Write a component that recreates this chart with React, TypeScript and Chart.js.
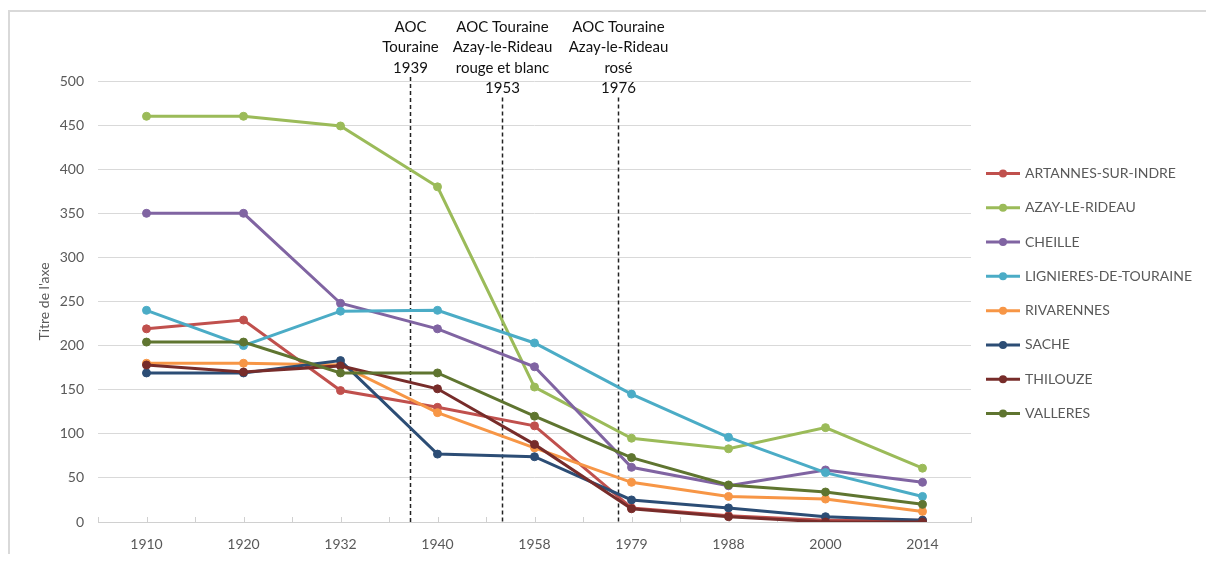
import React, { useEffect, useRef } from 'react';
import { Chart, registerables } from 'chart.js';

Chart.register(...registerables);

const years = ['1910', '1920', '1932', '1940', '1958', '1979', '1988', '2000', '2014'];

const artannes = [219, 229, 149, 130, 109, 16, 7, 2, 2];
const azay = [460, 460, 449, 380, 153, 95, 83, 107, 61];
const cheille = [350, 350, 248, 219, 176, 62, 41, 59, 45];
const lignieres = [240, 200, 239, 240, 203, 145, 96, 56, 29];
const rivarennes = [180, 180, 178, 124, 84, 45, 29, 26, 12];
const sache = [169, 169, 183, 77, 74, 25, 16, 6, 2];
const thilouze = [178, 170, 177, 151, 88, 15, 6, 0, 0];
const valleres = [204, 204, 169, 169, 120, 73, 42, 34, 20];

const seriesNames = [
  'ARTANNES-SUR-INDRE',
  'AZAY-LE-RIDEAU',
  'CHEILLE',
  'LIGNIERES-DE-TOURAINE',
  'RIVARENNES',
  'SACHE',
  'THILOUZE',
  'VALLERES',
];
const seriesValues = [artannes, azay, cheille, lignieres, rivarennes, sache, thilouze, valleres];
const seriesColors = ['#C0504D', '#9BBB59', '#8064A2', '#4BACC6', '#F79646', '#2C4D75', '#772C2A', '#5F7530'];

// fractional category index where each AOC marker sits
const annotationPositions = [2.715, 3.665, 4.862];
const annotationTexts = [
  ['AOC', 'Touraine', '1939'],
  ['AOC Touraine', 'Azay-le-Rideau', 'rouge et blanc', '1953'],
  ['AOC Touraine', 'Azay-le-Rideau', 'rosé', '1976'],
];

const yMin = 0;
const yMax = 500;
const yStep = 50;
const yTitle = "Titre de l'axe";

const FONT = 'Lato, "Open Sans", sans-serif';
const GREY = '#595959';

const borderPlugin = {
  id: 'frameBorder',
  beforeDraw(chart: any) {
    const { ctx, width, height } = chart;
    ctx.save();
    ctx.strokeStyle = '#D9D9D9';
    ctx.lineWidth = 2;
    ctx.beginPath();
    ctx.moveTo(0, 3);
    ctx.lineTo(width, 3);
    ctx.moveTo(1, 2);
    ctx.lineTo(1, height);
    ctx.stroke();
    ctx.restore();
  },
};

const xTickPlugin = {
  id: 'xHalfTicks',
  beforeDatasetsDraw(chart: any) {
    const { ctx, chartArea } = chart;
    const n = years.length * 2;
    ctx.save();
    ctx.strokeStyle = '#D0D0D0';
    ctx.lineWidth = 1;
    ctx.beginPath();
    for (let i = 0; i <= n; i++) {
      const x = Math.round(chartArea.left + (i * (chartArea.right - chartArea.left)) / n) + 0.5;
      ctx.moveTo(x, chartArea.bottom);
      ctx.lineTo(x, chartArea.bottom - 5);
    }
    ctx.stroke();
    ctx.restore();
  },
};

const annotationPlugin = {
  id: 'aocAnnotations',
  beforeDatasetsDraw(chart: any) {
    const { ctx, chartArea } = chart;
    const xs = chart.scales.x;
    const lineH = 20.5;
    const firstCenter = 19;
    ctx.save();
    annotationPositions.forEach((pos, i) => {
      const x = Math.round(xs.getPixelForValue(pos)) + 0.5;
      const lines = annotationTexts[i];
      ctx.fillStyle = '#111111';
      ctx.font = `15px ${FONT}`;
      ctx.textAlign = 'center';
      ctx.textBaseline = 'middle';
      lines.forEach((t, k) => ctx.fillText(t, x, firstCenter + k * lineH));
      const top = firstCenter + (lines.length - 1) * lineH + 9;
      ctx.strokeStyle = '#222222';
      ctx.lineWidth = 1.5;
      ctx.setLineDash([4, 3]);
      ctx.beginPath();
      ctx.moveTo(x, top);
      ctx.lineTo(x, chartArea.bottom);
      ctx.stroke();
      ctx.setLineDash([]);
    });
    ctx.restore();
  },
};

const legendPlugin = {
  id: 'sideLegend',
  afterDraw(chart: any) {
    const { ctx, chartArea } = chart;
    const spacing = 34.3;
    const center = (chartArea.top + chartArea.bottom) / 2 - 8;
    const x0 = chartArea.right + 15;
    ctx.save();
    chart.data.datasets.forEach((ds: any, i: number) => {
      const y = center + (i - (chart.data.datasets.length - 1) / 2) * spacing;
      ctx.strokeStyle = ds.borderColor;
      ctx.lineWidth = 3;
      ctx.beginPath();
      ctx.moveTo(x0, y);
      ctx.lineTo(x0 + 34, y);
      ctx.stroke();
      ctx.fillStyle = ds.borderColor;
      ctx.beginPath();
      ctx.arc(x0 + 17, y, 4, 0, Math.PI * 2);
      ctx.fill();
      ctx.fillStyle = GREY;
      ctx.font = `14px ${FONT}`;
      ctx.textAlign = 'left';
      ctx.textBaseline = 'middle';
      ctx.fillText(ds.label, x0 + 39, y);
    });
    ctx.restore();
  },
};

export default function App() {
  const ref = useRef<HTMLCanvasElement | null>(null);

  useEffect(() => {
    if (!ref.current) return;
    const n = seriesNames.length;
    const chart = new Chart(ref.current, {
      type: 'line',
      data: {
        labels: years,
        datasets: seriesNames.map((name, i) => ({
          label: name,
          data: seriesValues[i],
          borderColor: seriesColors[i],
          backgroundColor: seriesColors[i],
          pointBackgroundColor: seriesColors[i],
          pointBorderColor: seriesColors[i],
          pointRadius: 4,
          pointBorderWidth: 1,
          borderWidth: 3,
          tension: 0,
          fill: false,
          order: n - i,
        })),
      },
      options: {
        responsive: false,
        animation: false,
        layout: { padding: { top: 73, right: 235, left: 0, bottom: 0 } },
        plugins: {
          legend: { display: false },
          tooltip: { enabled: false },
        },
        scales: {
          x: {
            type: 'category',
            offset: true,
            grid: { display: false, drawTicks: false },
            border: { display: true, color: '#D0D0D0', width: 1 },
            ticks: { color: GREY, font: { family: FONT, size: 14 }, padding: 14, maxRotation: 0 },
            afterFit: (s: any) => {
              s.height = 32;
            },
          },
          y: {
            min: yMin,
            max: yMax,
            ticks: { stepSize: yStep, color: GREY, font: { family: FONT, size: 14 }, padding: 14 },
            grid: { color: '#D9D9D9', drawTicks: false, lineWidth: 1 },
            border: { display: false },
            title: {
              display: true,
              text: yTitle,
              color: GREY,
              font: { family: FONT, size: 14 },
              padding: { top: 28, bottom: 0 },
            },
            afterFit: (s: any) => {
              s.width = 90;
            },
          },
        },
      },
      plugins: [borderPlugin, xTickPlugin, annotationPlugin, legendPlugin],
    });
    return () => chart.destroy();
  }, []);

  return (
    <canvas ref={ref} width={1198} height={546} style={{ display: 'block', width: 1198, height: 546 }} />
  );
}
